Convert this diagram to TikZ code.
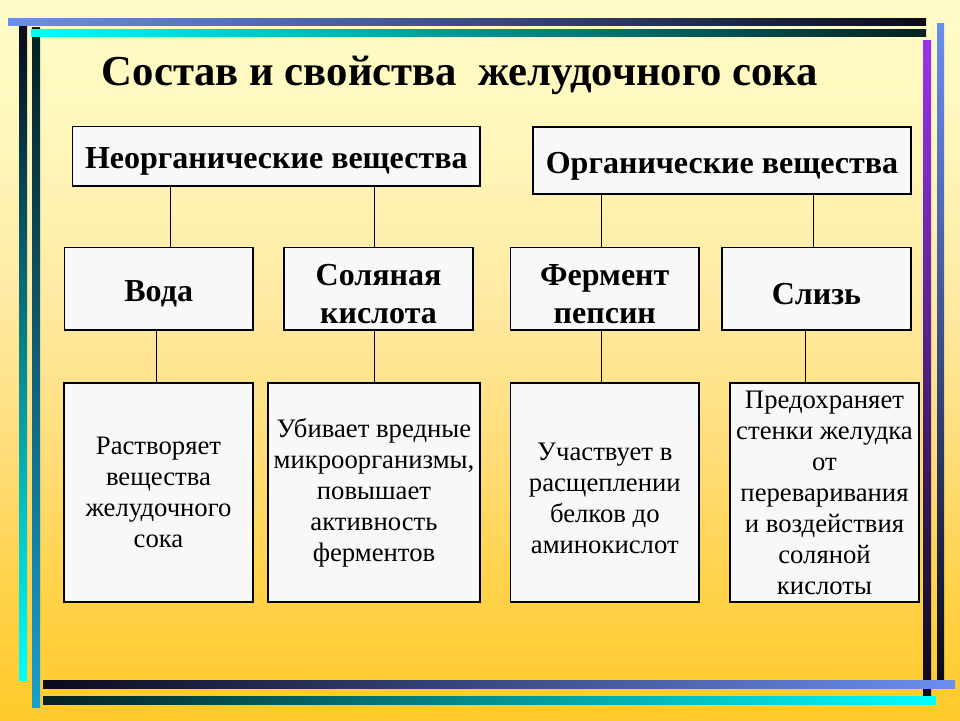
\documentclass[tikz,border=0pt]{standalone}
\usepackage{fontspec}
\setmainfont{Liberation Serif}
\definecolor{bgA}{HTML}{FFCA2A}
\definecolor{bgB}{HTML}{FFD145}
\definecolor{bgC}{HTML}{FFDD7A}
\definecolor{bgD}{HTML}{FFEAA2}
\definecolor{bgE}{HTML}{FFF6BA}
\definecolor{bgF}{HTML}{FFFCC8}
\definecolor{boxfill}{HTML}{F8F8F8}
\definecolor{barblue}{HTML}{6B8FF0}
\definecolor{barcyan}{HTML}{00FFFF}
\definecolor{barsteel}{HTML}{1A9FCF}
\definecolor{barpurple}{HTML}{9933EE}
\definecolor{bardark}{HTML}{0A0A1A}
\definecolor{bardarkteal}{HTML}{062020}
\pgfdeclareverticalshading{bgshade}{100bp}{color(0bp)=(bgA); color(25bp)=(bgA); color(33.3bp)=(bgB); color(43.75bp)=(bgC); color(54.2bp)=(bgD); color(64.6bp)=(bgE); color(75bp)=(bgF); color(100bp)=(bgF)}
\newcommand{\hstrut}{\rule{0pt}{32pt}}
\begin{document}
\begin{tikzpicture}[x=1pt,y=-1pt,
  box/.style={draw=black, line width=1.5pt, fill=boxfill, inner sep=0pt, align=center},
  head/.style={box, font=\fontsize{32}{38}\selectfont\bfseries},
  desc/.style={box, font=\fontsize{26.7}{31}\selectfont},
  link/.style={line width=1pt, draw=black}]
\useasboundingbox (0,0) rectangle (960,720);
% background
\shade[shading=bgshade] (0,0) rectangle (960,720);
% decorative bars
\shade[top color=bardark, bottom color=barcyan] (19,25) rectangle (27,680);
\shade[top color=bardarkteal, bottom color=barsteel] (32,27) rectangle (40,707);
\shade[left color=barblue, right color=bardark] (8,18) rectangle (926,25);
\shade[left color=barcyan, right color=bardarkteal] (31,29) rectangle (926,36);
\shade[top color=barpurple, bottom color=bardark] (923,40) rectangle (931,696);
\shade[top color=barblue, bottom color=bardark] (937,23) rectangle (944,680);
\shade[left color=bardark, right color=barblue] (43,680) rectangle (955,688);
\shade[left color=bardarkteal, right color=barcyan] (43,696) rectangle (936,704);
% title
\node[anchor=base, font=\fontsize{42.7}{50}\selectfont\bfseries] (title) at (460,85) {Состав и свойства\ \ желудочного сока};
% top level
\node[head, minimum width=407.3pt, minimum height=59.3pt] (neorg) at (276.3,156.3) {\hstrut Неорганические вещества};
\node[head, minimum width=378pt, minimum height=67pt] (org) at (722,160.5) {\hstrut Органические вещества};
% second level
\node[head, minimum width=188.7pt, minimum height=82.7pt] (voda) at (158.7,288.7) {\hstrut Вода};
\node[head, minimum width=189pt, minimum height=82.7pt] (sol) at (378.5,288.7) {\hstrut Соляная\\кислота};
\node[head, minimum width=188.3pt, minimum height=82.7pt] (ferm) at (604.8,288.7) {\hstrut Фермент\\пепсин};
\node[head, minimum width=189pt, minimum height=82.7pt] (sliz) at (816.5,288.7) {\hstrut Слизь};
% third level
\node[desc, minimum width=189pt, minimum height=219pt] (b1) at (158.5,492.5) {Растворяет\\вещества\\желудочного\\сока};
\node[desc, minimum width=212pt, minimum height=219pt] (b2) at (374,492.5) {Убивает вредные\\микроорганизмы,\\повышает\\активность\\ферментов};
\node[desc, minimum width=188.3pt, minimum height=219pt] (b3) at (604.8,492.5) {\rule{0pt}{29pt}Участвует в\\расщеплении\\белков до\\аминокислот};
\node[desc, minimum width=189pt, minimum height=219pt] (b4) at (824.5,492.5) {Предохраняет\\стенки желудка\\от\\переваривания\\и воздействия\\соляной\\кислоты};
% connector x positions
\coordinate (xa) at (170.7,0);
\coordinate (xb) at (374,0);
\coordinate (xc) at (601.7,0);
\coordinate (xd) at (813,0);
\coordinate (xe) at (156,0);
\coordinate (xf) at (374,0);
\coordinate (xg) at (601,0);
\coordinate (xh) at (805,0);
\draw[link] (neorg.south -| xa) -- (voda.north -| xa);
\draw[link] (neorg.south -| xb) -- (sol.north -| xb);
\draw[link] (org.south -| xc) -- (ferm.north -| xc);
\draw[link] (org.south -| xd) -- (sliz.north -| xd);
\draw[link] (voda.south -| xe) -- (b1.north -| xe);
\draw[link] (sol.south -| xf) -- (b2.north -| xf);
\draw[link] (ferm.south -| xg) -- (b3.north -| xg);
\draw[link] (sliz.south -| xh) -- (b4.north -| xh);
\end{tikzpicture}
\end{document}
